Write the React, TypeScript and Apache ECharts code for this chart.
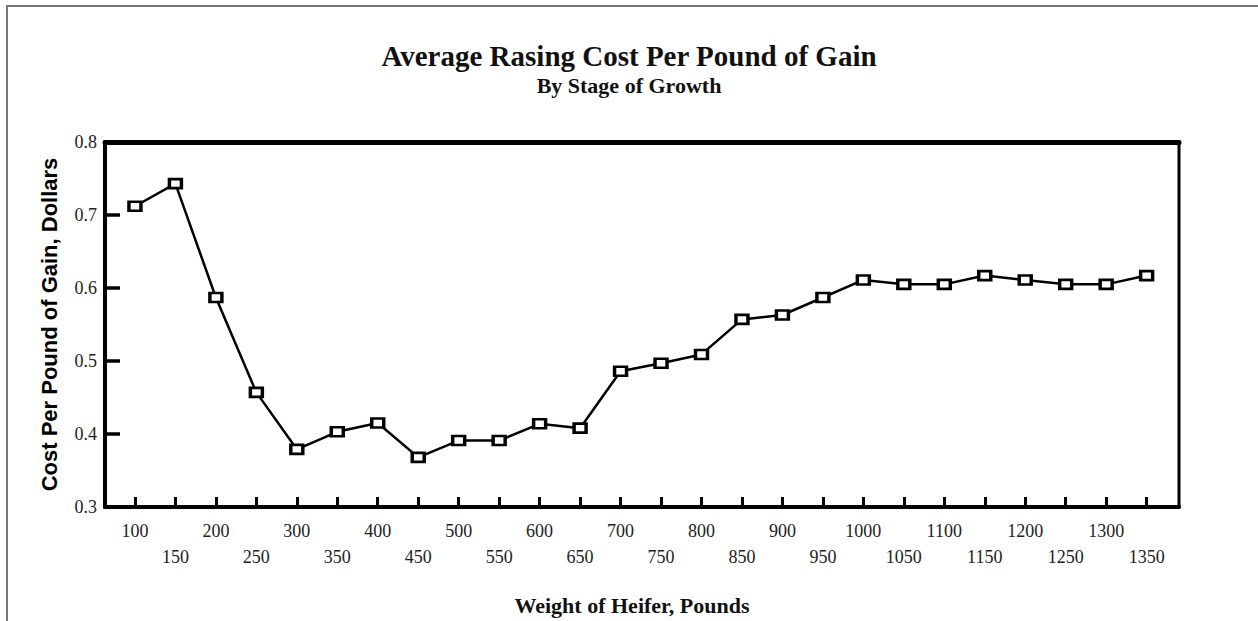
import React, { useEffect, useRef } from "react";
import * as echarts from "echarts";

const weights = [100, 150, 200, 250, 300, 350, 400, 450, 500, 550, 600, 650, 700, 750, 800, 850, 900, 950, 1000, 1050, 1100, 1150, 1200, 1250, 1300, 1350];
const costs = [0.712, 0.743, 0.587, 0.457, 0.379, 0.403, 0.415, 0.368, 0.391, 0.391, 0.414, 0.408, 0.486, 0.497, 0.509, 0.557, 0.563, 0.587, 0.611, 0.605, 0.605, 0.617, 0.611, 0.605, 0.605, 0.617];
const yTicks = [0.3, 0.4, 0.5, 0.6, 0.7, 0.8];

const titleText = "Average Rasing Cost Per Pound of Gain";
const subtitleText = "By Stage of Growth";
const xName = "Weight of Heifer, Pounds";
const yName = "Cost Per Pound of Gain, Dollars";

const SERIF = "'Liberation Serif', 'Times New Roman', serif";
const SANS = "'Liberation Sans', Arial, sans-serif";

export default function App() {
  const ref = useRef<HTMLDivElement>(null);
  useEffect(() => {
    if (!ref.current) return;
    const chart = echarts.init(ref.current, null, { renderer: "svg" });
    chart.setOption({
      animation: false,
      backgroundColor: "#fff",
      title: [
        {
          text: titleText,
          left: "center",
          top: 41,
          padding: 0,
          textStyle: { fontFamily: SERIF, fontWeight: "bold", fontSize: 29, color: "#111" },
        },
        {
          text: subtitleText,
          left: "center",
          top: 74,
          padding: 0,
          textStyle: { fontFamily: SERIF, fontWeight: "bold", fontSize: 22, color: "#111" },
        },
      ],
      graphic: [
        {
          type: "rect",
          silent: true,
          z: -1,
          shape: { x: 7, y: 6, width: 1400, height: 800 },
          style: { fill: "none", stroke: "#777", lineWidth: 2 },
        },
      ],
      grid: {
        left: 105,
        right: 79,
        top: 142,
        bottom: 110,
        show: true,
        borderColor: "#000",
        borderWidth: 3,
        backgroundColor: "transparent",
      },
      xAxis: [
        {
          type: "value",
          min: 63,
          max: 1390,
          splitLine: { show: false },
          axisLine: { show: true, onZero: false, lineStyle: { color: "#000", width: 4 } },
          axisTick: {
            show: true,
            inside: true,
            length: 10,
            customValues: weights,
            lineStyle: { color: "#000", width: 3 },
          },
          axisLabel: {
            customValues: weights,
            margin: 11,
            fontFamily: SERIF,
            fontSize: 18,
            lineHeight: 26,
            color: "#222",
            formatter: (v: number) => (weights.indexOf(v) % 2 === 1 ? "\n" + v : String(v)),
          },
          name: xName,
          nameLocation: "middle",
          nameGap: 87,
          nameTextStyle: {
            fontFamily: SERIF,
            fontWeight: "bold",
            fontSize: 22,
            color: "#111",
            padding: [0, 20, 0, 0],
          },
        },
        {
          type: "value",
          position: "top",
          min: 63,
          max: 1390,
          splitLine: { show: false },
          axisLine: { show: true, lineStyle: { color: "#000", width: 5 } },
          axisTick: { show: false },
          axisLabel: { show: false },
        },
      ],
      yAxis: {
        type: "value",
        min: yTicks[0],
        max: yTicks[yTicks.length - 1],
        interval: 0.1,
        splitLine: { show: false },
        axisLine: { show: true, onZero: false, lineStyle: { color: "#000", width: 4 } },
        axisTick: { show: true, inside: true, length: 15, lineStyle: { color: "#000", width: 3.5 } },
        axisLabel: {
          margin: 8,
          fontFamily: SERIF,
          fontSize: 18,
          color: "#222",
          formatter: (v: number) => v.toFixed(1),
        },
        name: yName,
        nameLocation: "middle",
        nameGap: 45,
        nameTextStyle: { fontFamily: SANS, fontWeight: 900, fontSize: 22, color: "#000" },
      },
      series: [
        {
          type: "line",
          xAxisIndex: 0,
          data: weights.map((w, i) => [w, costs[i]]),
          symbol: "rect",
          symbolSize: [12, 9],
          showAllSymbol: true,
          itemStyle: { color: "#fff", borderColor: "#000", borderWidth: 3 },
          lineStyle: { color: "#000", width: 2.5 },
        },
      ],
    });
    return () => chart.dispose();
  }, []);
  return (
    <div
      ref={ref}
      style={{ position: "fixed", left: 0, top: 0, width: 1258, height: 621 }}
    />
  );
}
